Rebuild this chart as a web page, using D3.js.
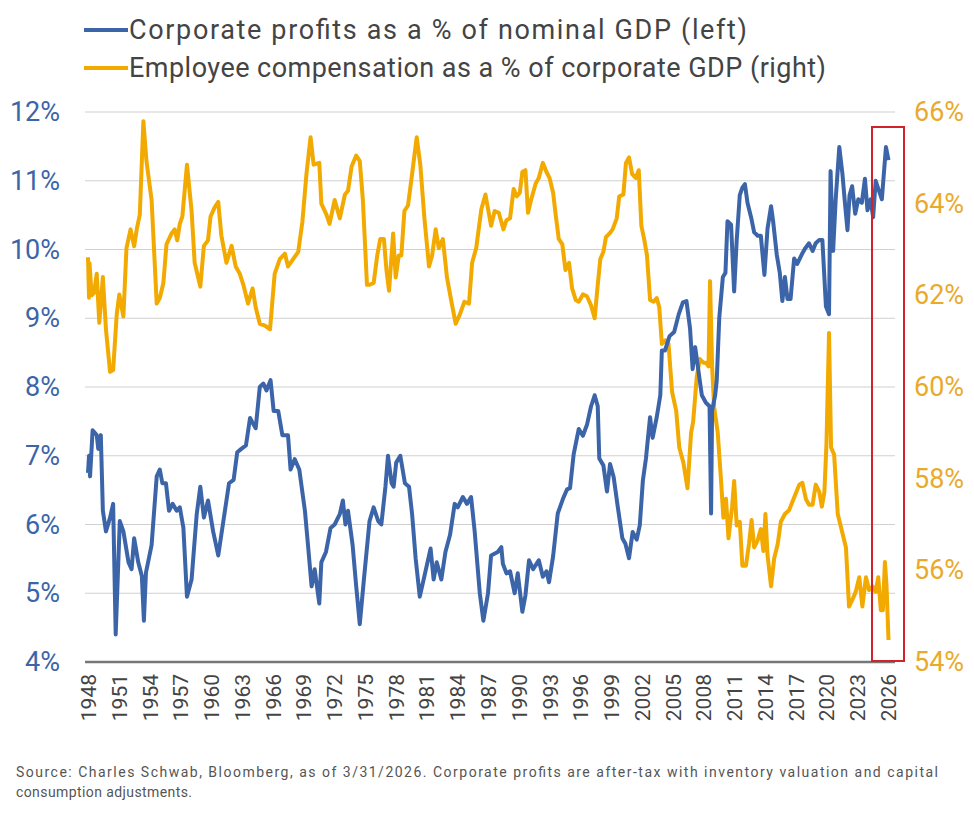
<!DOCTYPE html>
<html>
<head>
<meta charset="utf-8">
<script src="https://cdn.jsdelivr.net/npm/d3@7"></script>
<style>
  body { margin: 0; background: #fff; }
  text { font-family: Roboto, "Open Sans", sans-serif; }
</style>
</head>
<body>
<svg id="chart" width="974" height="823"></svg>
<script>
// Corporate profits, % of nominal GDP (left axis)
var profitYears = [1948.0,1948.1,1948.2,1948.45,1948.85,1949.0,1949.25,1949.45,1949.75,1950.15,1950.45,1950.7,1951.1,1951.45,1951.95,1952.25,1952.5,1952.9,1953.25,1953.45,1953.65,1954.2,1954.7,1955.0,1955.25,1955.6,1955.9,1956.25,1956.65,1956.95,1957.3,1957.65,1958.1,1958.6,1958.95,1959.3,1959.7,1960.2,1960.7,1961.2,1961.75,1962.2,1962.55,1962.95,1963.4,1963.8,1964.35,1964.75,1965.1,1965.4,1965.8,1966.1,1966.55,1966.95,1967.5,1967.75,1968.15,1968.6,1969.15,1969.45,1969.8,1970.1,1970.55,1970.75,1971.2,1971.65,1972.05,1972.55,1972.85,1973.1,1973.35,1973.8,1974.15,1974.5,1974.9,1975.45,1975.85,1976.3,1976.6,1977.0,1977.25,1977.6,1977.8,1978.05,1978.45,1978.9,1979.3,1979.6,1979.95,1980.35,1980.8,1981.4,1981.7,1982.0,1982.45,1982.85,1983.3,1983.75,1984.05,1984.55,1984.95,1985.35,1985.7,1986.2,1986.55,1987.0,1987.3,1987.95,
  1988.3,1988.45,1988.8,1989.15,1989.6,1989.9,1990.35,1990.65,1991.0,1991.4,1991.95,1992.35,1992.7,1992.95,1993.35,1993.8,1994.3,1994.7,1995.0,1995.35,1995.85,1996.25,1996.65,1997.05,1997.4,1997.7,1997.85,1998.25,1998.6,1998.9,1999.25,1999.65,2000.1,2000.4,2000.75,2001.1,2001.5,2001.8,2002.1,2002.4,2002.8,2003.05,2003.45,2003.8,2003.95,2004.25,2004.7,2005.15,2005.6,2006.0,2006.35,2006.7,2006.95,2007.2,2007.55,2007.85,2008.25,2008.6,2008.75,2008.85,2009.15,2009.3,2009.55,2009.9,2010.15,2010.35,2010.7,2011.0,2011.25,2011.55,2011.8,2012.05,2012.3,2012.65,2012.95,2013.3,2013.6,2013.95,2014.25,2014.6,2014.8,2015.15,2015.45,2015.7,2015.95,2016.2,2016.5,2016.85,2017.15,2017.6,2017.9,2018.3,2018.65,2018.95,2019.3,2019.6,2019.95,2020.25,2020.4,2020.65,2020.9,2021.25,2021.55,2021.8,2022.05,2022.25,2022.5,2022.8,2023.1,2023.45,2023.75,2024.0,2024.3,2024.55,2024.8,2025.15,2025.4,2025.6,2025.8,2026.05];
var profitValues = [6.75,7.0,6.7,7.37,7.3,7.1,7.3,6.2,5.9,6.1,6.3,4.4,6.05,5.9,5.45,5.35,5.8,5.45,5.25,4.6,5.3,5.7,6.7,6.8,6.6,6.6,6.2,6.3,6.2,6.25,5.95,4.95,5.2,6.15,6.55,6.1,6.35,5.9,5.55,6.05,6.6,6.65,7.05,7.1,7.15,7.55,7.4,8.0,8.05,7.95,8.1,7.65,7.65,7.3,7.3,6.8,6.95,6.8,6.2,5.7,5.1,5.35,4.85,5.45,5.6,5.95,6.0,6.15,6.35,6.0,6.2,5.7,5.1,4.55,5.2,6.05,6.25,6.05,6.0,6.55,7.0,6.6,6.55,6.9,7.0,6.6,6.55,6.15,5.5,4.95,5.25,5.65,5.2,5.45,5.2,5.6,5.85,6.3,6.25,6.4,6.3,6.4,5.9,5.0,4.6,5.0,5.55,5.6,
  5.67,5.43,5.29,5.32,5.0,5.29,4.73,4.97,5.48,5.35,5.48,5.24,5.32,5.16,5.54,6.16,6.37,6.51,6.53,7.02,7.39,7.29,7.45,7.72,7.88,7.72,6.96,6.86,6.48,6.88,6.69,6.26,5.8,5.72,5.51,5.89,5.78,5.99,6.64,6.96,7.56,7.26,7.56,7.88,8.53,8.53,8.74,8.8,9.06,9.23,9.25,8.85,8.26,8.58,8.2,7.88,7.77,7.72,6.16,7.66,7.88,8.09,9.01,9.6,9.66,10.41,10.36,9.39,10.14,10.79,10.9,10.95,10.68,10.47,10.25,10.2,10.2,9.63,10.3,10.63,10.41,9.93,9.66,9.25,9.6,9.28,9.28,9.87,9.79,9.93,10.01,10.09,9.98,10.09,10.14,10.14,9.17,9.06,11.14,9.98,10.73,11.49,11.11,10.68,10.28,10.79,10.92,10.52,10.73,10.68,11.03,10.57,10.73,10.47,11.0,10.84,10.73,11.11,11.49,11.3];

// Employee compensation, % of corporate GDP (right axis)
var compYears = [1948.0,1948.1,1948.15,1948.35,1948.6,1948.85,1949.1,1949.45,1949.75,1950.15,1950.45,1950.8,1951.05,1951.45,1951.75,1952.15,1952.5,1952.75,1953.05,1953.4,1953.7,1954.2,1954.7,1955.0,1955.35,1955.65,1956.15,1956.45,1956.7,1956.95,1957.2,1957.65,1958.1,1958.4,1958.95,1959.3,1959.7,1959.95,1960.35,1960.7,1961.0,1961.5,1962.0,1962.4,1962.8,1963.15,1963.6,1964.05,1964.35,1964.75,1965.25,1965.75,1966.2,1966.7,1967.2,1967.5,1968.0,1968.5,1968.9,1969.3,1969.7,1970.0,1970.55,1970.75,1971.25,1971.55,1972.05,1972.55,1973.05,1973.35,1973.7,1974.15,1974.5,1974.8,1975.2,1975.45,1975.85,1976.2,1976.5,1976.85,1977.1,1977.35,1977.75,1978.0,1978.3,1978.55,1978.85,1979.2,1979.6,1980.05,1980.4,1980.8,1981.25,1981.55,1981.9,1982.2,1982.6,1983.0,1983.4,1983.85,1984.25,1984.7,1985.15,1985.45,1985.85,1986.35,1986.75,1987.3,1987.65,1988.05,
  1988.5,1988.8,1989.15,1989.5,1989.8,1990.1,1990.35,1990.65,1990.9,1991.2,1991.65,1991.95,1992.35,1992.7,1993.0,1993.35,1993.6,1993.9,1994.25,1994.55,1994.9,1995.2,1995.55,1995.85,1996.25,1996.65,1997.05,1997.4,1997.7,1997.95,1998.25,1998.5,1998.85,1999.15,1999.55,1999.8,2000.2,2000.45,2000.75,2001.05,2001.4,2001.7,2001.95,2002.25,2002.5,2002.8,2003.15,2003.45,2003.7,2003.95,2004.3,2004.6,2004.95,2005.35,2005.65,2006.05,2006.45,2006.8,2007.0,2007.35,2007.65,2008.0,2008.25,2008.5,2008.65,2008.85,2009.05,2009.4,2009.7,2009.95,2010.2,2010.45,2010.8,2011.0,2011.25,2011.55,2011.8,2012.15,2012.45,2012.7,2012.95,2013.3,2013.6,2013.85,2014.05,2014.25,2014.6,2014.9,2015.25,2015.55,2015.95,2016.35,2016.85,2017.35,2017.65,2018.0,2018.3,2018.65,2018.95,2019.3,2019.55,2019.8,2020.0,2020.25,2020.45,2020.75,2021.1,2021.55,2021.9,2022.2,2022.55,2022.85,2023.2,2023.5,2023.85,2024.15,2024.5,2024.8,2025.05,2025.3,2025.5,2025.7,2025.85,2026.05];
var compValues = [62.83,61.95,62.7,62.0,62.06,62.47,61.4,62.4,61.26,60.33,60.37,61.58,62.02,61.54,63.03,63.44,63.07,63.44,63.76,65.8,64.93,64.08,61.82,61.94,62.27,63.11,63.35,63.44,63.2,63.56,63.72,64.85,63.84,62.71,62.19,63.08,63.2,63.72,63.92,64.04,63.31,62.71,63.08,62.63,62.47,62.23,61.82,62.15,61.74,61.38,61.34,61.26,62.47,62.79,62.91,62.63,62.79,62.95,63.6,64.65,65.45,64.85,64.89,64.0,63.76,63.56,64.08,63.68,64.2,64.28,64.81,65.05,64.93,64.08,62.23,62.23,62.27,62.87,63.23,63.23,62.55,62.1,63.35,62.39,62.87,62.87,63.84,63.96,64.65,65.45,64.85,63.68,62.63,62.87,63.44,63.03,63.23,62.39,61.9,61.38,61.58,61.86,61.82,62.71,63.03,63.88,64.2,63.52,63.84,63.8,
  63.44,63.64,63.68,64.32,64.16,64.24,64.69,64.73,63.8,64.08,64.44,64.56,64.89,64.69,64.56,64.24,63.76,63.23,63.11,62.55,62.71,62.15,61.9,61.86,62.02,61.98,61.78,61.5,62.23,62.79,62.95,63.27,63.35,63.44,63.68,64.16,64.2,64.89,65.01,64.65,64.56,64.73,63.52,63.2,62.87,61.9,61.86,61.94,61.74,60.94,61.02,60.94,59.89,59.48,58.68,58.35,57.79,59.0,59.24,60.21,60.61,60.53,60.53,60.45,62.31,60.45,59.56,59.0,58.03,57.15,57.56,56.7,57.39,57.95,56.98,57.06,56.1,56.1,56.58,57.1,56.5,56.66,56.9,56.42,57.23,56.34,55.65,56.26,56.58,57.06,57.23,57.31,57.59,57.87,57.91,57.55,57.43,57.43,57.87,57.71,57.39,57.71,58.76,61.18,58.68,58.52,57.23,56.82,56.5,55.21,55.37,55.53,55.85,55.21,55.85,55.57,55.65,55.53,55.85,55.13,55.13,56.18,55.69,54.48];

var leftTicks = [4, 5, 6, 7, 8, 9, 10, 11, 12];
var rightTicks = [54, 56, 58, 60, 62, 64, 66];
var yearTicks = d3.range(1948, 2027, 3);

var blue = '#3b65a8', orange = '#f2a900';
var svg = d3.select('#chart');

var x = d3.scaleLinear().domain([1948, 2026]).range([88, 888]);
var yLeft = d3.scaleLinear().domain([4, 12]).range([662, 112]);
var yRight = d3.scaleLinear().domain([54, 66]).range([662, 112]);

// Gridlines on the left scale
svg.append('g').selectAll('line')
    .data(leftTicks.slice(1))
    .enter().append('line')
        .attr('x1', 85).attr('x2', 895)
        .attr('y1', function(d) {return yLeft(d);})
        .attr('y2', function(d) {return yLeft(d);})
        .attr('stroke', '#d0d0d0').attr('stroke-width', 1.2);

// Left axis labels
svg.append('g').selectAll('text')
    .data(leftTicks)
    .enter().append('text')
        .attr('x', 60).attr('y', function(d) {return yLeft(d) + 9;})
        .attr('text-anchor', 'end')
        .attr('font-size', 27).attr('fill', blue)
        .text(function(d) {return d + '%';});

// Right axis labels
svg.append('g').selectAll('text')
    .data(rightTicks)
    .enter().append('text')
        .attr('x', 914).attr('y', function(d) {return yRight(d) + 9;})
        .attr('font-size', 27).attr('fill', '#e9aa2c')
        .text(function(d) {return d + '%';});

// Year labels, rotated
svg.append('g').selectAll('text')
    .data(yearTicks)
    .enter().append('text')
        .attr('transform', function(d) {return 'translate(' + (x(d) + 8) + ',674) rotate(-90)';})
        .attr('text-anchor', 'end')
        .attr('font-size', 21).attr('fill', '#444')
        .text(function(d) {return d;});

var lineL = d3.line()
    .x(function(d) {return x(d[0]);})
    .y(function(d) {return yLeft(d[1]);});
var lineR = d3.line()
    .x(function(d) {return x(d[0]);})
    .y(function(d) {return yRight(d[1]);});

svg.append('path')
    .datum(d3.zip(compYears, compValues))
    .attr('d', lineR)
    .attr('fill', 'none').attr('stroke', orange)
    .attr('stroke-width', 4).attr('stroke-linejoin', 'round');

svg.append('path')
    .datum(d3.zip(profitYears, profitValues))
    .attr('d', lineL)
    .attr('fill', 'none').attr('stroke', blue)
    .attr('stroke-width', 4).attr('stroke-linejoin', 'round');

// Baseline
svg.append('line')
    .attr('x1', 85).attr('x2', 895).attr('y1', 662).attr('y2', 662)
    .attr('stroke', '#777').attr('stroke-width', 2.5);

// Highlight box around the latest readings
svg.append('rect')
    .attr('x', 872).attr('y', 127).attr('width', 32).attr('height', 534)
    .attr('fill', 'none').attr('stroke', '#d2232a').attr('stroke-width', 2);

// Legend
var legendItems = [
    {label: 'Corporate profits as a % of nominal GDP (left)', color: blue, width: 618},
    {label: 'Employee compensation as a % of corporate GDP (right)', color: orange, width: 697}
];
var legend = svg.append('g').selectAll('g')
    .data(legendItems)
    .enter().append('g')
        .attr('transform', function(d, i) {return 'translate(84,' + (30 + i * 38) + ')';});
legend.append('line')
    .attr('x1', 0).attr('x2', 44)
    .attr('stroke', function(d) {return d.color;}).attr('stroke-width', 4);
legend.append('text')
    .attr('x', 45).attr('y', 9)
    .attr('font-size', 27).attr('fill', '#444')
    .attr('textLength', function(d) {return d.width;})
    .text(function(d) {return d.label;});

// Source note
svg.append('text')
    .attr('x', 16).attr('y', 777).attr('font-size', 14).attr('fill', '#555')
    .attr('textLength', 922)
    .text('Source: Charles Schwab, Bloomberg, as of 3/31/2026.  Corporate profits are after-tax with inventory valuation and capital');
svg.append('text')
    .attr('x', 16).attr('y', 797).attr('font-size', 14).attr('fill', '#555')
    .attr('textLength', 176)
    .text('consumption adjustments.');
</script>
</body>
</html>
